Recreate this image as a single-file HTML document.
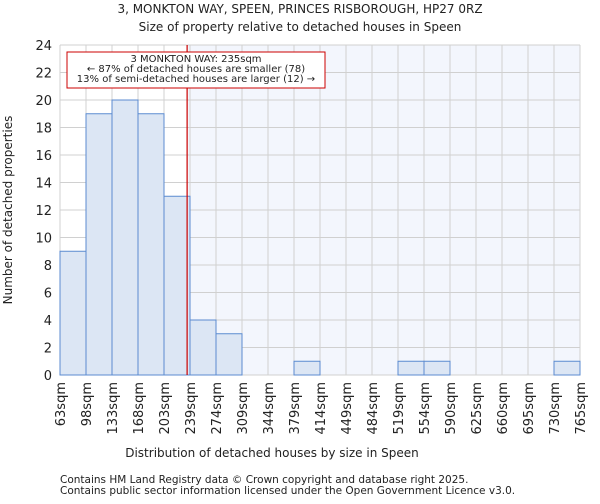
<!DOCTYPE html>
<html><head><meta charset="utf-8"><style>
body{margin:0;background:#fff;font-family:"DejaVu Sans","Liberation Sans",sans-serif}
svg text{font-family:"DejaVu Sans","Liberation Sans",sans-serif;fill:#222}
</style></head><body>
<svg id="c" width="600" height="500" xmlns="http://www.w3.org/2000/svg">
<text x="300" y="13" font-size="12" text-anchor="middle">3, MONKTON WAY, SPEEN, PRINCES RISBOROUGH, HP27 0RZ</text>
<text x="300" y="31" font-size="12" text-anchor="middle">Size of property relative to detached houses in Speen</text>
<g id="plot"></g>
<text x="272" y="457" font-size="12" text-anchor="middle">Distribution of detached houses by size in Speen</text>
<text transform="translate(12,210) rotate(-90)" font-size="12" text-anchor="middle">Number of detached properties</text>
<text x="60" y="483" font-size="10.5">Contains HM Land Registry data © Crown copyright and database right 2025.</text>
<text x="60" y="494" font-size="10.5">Contains public sector information licensed under the Open Government Licence v3.0.</text>
</svg>
<script>
const categories=["63sqm","98sqm","133sqm","168sqm","203sqm","239sqm","274sqm","309sqm","344sqm","379sqm","414sqm","449sqm","484sqm","519sqm","554sqm","590sqm","625sqm","660sqm","695sqm","730sqm","765sqm"];
const counts=[9,19,20,19,13,4,3,0,0,1,0,0,0,1,1,0,0,0,0,1];
const yTicks=[0,2,4,6,8,10,12,14,16,18,20,22,24];
const binEdges=[63,98,133,168,203,239,274,309,344,379,414,449,484,519,554,590,625,660,695,730,765];
const propertySize=235;
const NS="http://www.w3.org/2000/svg";
const g=document.getElementById('plot');
const L=60,R=580,T=45,B=375,yMax=24;
const bw=(R-L)/counts.length;
const y=v=>B-(v/yMax)*(B-T);
const xi=i=>L+i*bw;
function xv(v){for(let i=0;i<binEdges.length-1;i++){if(v<=binEdges[i+1])return xi(i)+(v-binEdges[i])/(binEdges[i+1]-binEdges[i])*bw;}return R;}
function el(t,a){const e=document.createElementNS(NS,t);for(const k in a)e.setAttribute(k,a[k]);g.appendChild(e);return e;}
const px=xv(propertySize);
let e=el('rect',{x:px,y:T,width:R-px,height:B-T,fill:'#f3f6fd'});


for(let i=0;i<=counts.length;i++){e=el('line',{x1:xi(i),x2:xi(i),y1:T,y2:B,stroke:'#d0d0d0','stroke-width':1});

}
yTicks.forEach(t=>{e=el('line',{x1:L,x2:R,y1:y(t),y2:y(t),stroke:'#d0d0d0','stroke-width':1});


e=el('text',{x:L-8,y:y(t)+5,'font-size':13,'text-anchor':'end'});e.textContent=t;

});
counts.forEach((c,i)=>{if(c<=0)return;e=el('rect',{x:xi(i),y:y(c),width:bw,height:B-y(c),fill:'#dce6f4',stroke:'#5b8bd0','stroke-width':1});

});
categories.forEach((c,i)=>{e=el('text',{transform:`translate(${xi(i)+5},382) rotate(-90)`,'font-size':13,'text-anchor':'end'});e.textContent=c;

});
e=el('line',{x1:px,x2:px,y1:T,y2:B,stroke:'#cc0000','stroke-width':1.2});


e=el('rect',{x:67,y:52,width:258,height:36,fill:'#fff',stroke:'#cc0000','stroke-width':1});


["3 MONKTON WAY: 235sqm","← 87% of detached houses are smaller (78)","13% of semi-detached houses are larger (12) →"].forEach((s,k)=>{e=el('text',{x:196,y:62+k*10,'font-size':10,'text-anchor':'middle'});e.textContent=s;

});
</script>
</body></html>
